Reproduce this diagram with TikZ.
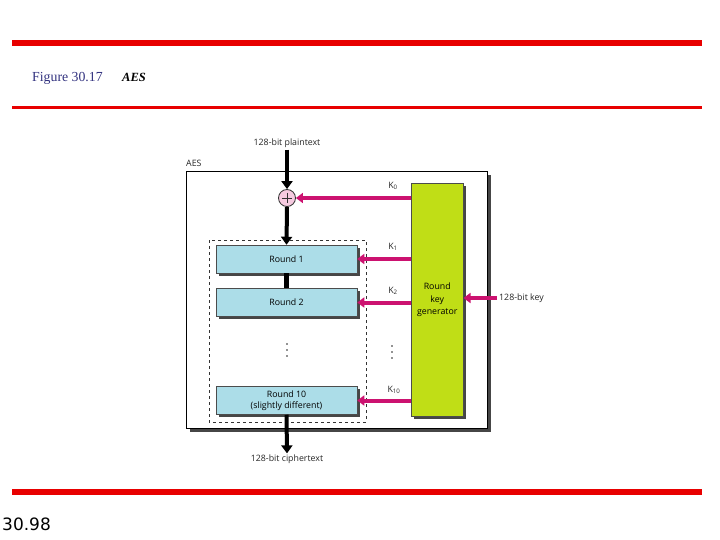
\documentclass[tikz,border=0pt]{standalone}
\usepackage{fontspec}
\setmainfont{Liberation Serif}
\newfontfamily\diagfont{Open Sans}
\newfontfamily\numfont{DejaVu Sans}
\usetikzlibrary{arrows.meta,shadows,calc}
\definecolor{redline}{RGB}{232,0,0}
\definecolor{capblue}{RGB}{51,51,128}
\definecolor{roundblue}{RGB}{172,221,232}
\definecolor{keygreen}{RGB}{192,222,22}
\definecolor{keymag}{RGB}{204,18,112}
\definecolor{xorpink}{RGB}{246,202,224}
\definecolor{shadowgray}{RGB}{70,70,70}
\tikzset{
  lbl/.style={font=\diagfont\fontsize{8.8}{10}\selectfont, text=black!85, inner sep=2pt},
  shad/.style={drop shadow={shadow xshift=2.5pt, shadow yshift=-2.5pt, fill=shadowgray, opacity=1}},
  roundbox/.style={shad, draw=black!70, line width=0.5pt, fill=roundblue, minimum width=141, minimum height=28, inner sep=0, align=center, font=\diagfont\fontsize{8.8}{11}\selectfont},
  genbox/.style={shad, draw=black!70, line width=0.5pt, fill=keygreen, minimum width=52, minimum height=233, inner sep=0, align=center, font=\diagfont\fontsize{8.8}{12.5}\selectfont, anchor=north west},
  aesbox/.style={drop shadow={shadow xshift=3pt, shadow yshift=-3pt, fill=shadowgray, opacity=1}, draw=black, line width=1.2pt, fill=white, minimum width=301, minimum height=257, inner sep=0, anchor=north west},
  blackarrow/.style={line width=4pt, -{Triangle[width=11pt,length=8pt]}},
  blackline/.style={line width=5pt},
  magarrow/.style={keymag, line width=4pt, -{Triangle[width=10pt,length=7pt]}},
  dotmark/.style={fill=black!85},
}
\begin{document}
\begin{tikzpicture}[x=1pt,y=-1pt]
\useasboundingbox[fill=white] (0,0) rectangle (720,540);
% rules
\fill[redline] (12,40) rectangle (702,46);
\fill[redline] (12,106.5) rectangle (702,109.5);
\fill[redline] (12,489) rectangle (702,495);
% caption
\node[anchor=base west, inner sep=0, text=capblue, font=\fontsize{13.8}{15}\selectfont] (cap) at (32,82) {Figure 30.17};
\node[anchor=base west, inner sep=0, font=\bfseries\itshape\fontsize{12.5}{14}\selectfont] (capt) at (122,82) {AES};
\node[anchor=west, inner sep=0, font=\numfont\fontsize{17}{20}\selectfont] (pg) at (2,524) {30.98};
% diagram
\node[aesbox] (aes) at (186,171) {};
\node[lbl, anchor=west] (aeslbl) at (184,163) {AES};
\draw[dashed, line width=0.6pt, black!80] (209,240) rectangle (366,422);
\node[genbox] (gen) at (411,183) {Round\\key\\generator};
\node[circle, draw=black!80, line width=0.8pt, fill=xorpink, minimum size=17, inner sep=0] (xor) at (287,198) {};
\draw[black!80, line width=0.9pt] ($(xor.center)+(-5,0)$) -- ($(xor.center)+(5,0)$);
\draw[black!80, line width=0.9pt] ($(xor.center)+(0,-5)$) -- ($(xor.center)+(0,5)$);
\node[roundbox] (r1) at (286.5,259) {Round 1};
\node[roundbox] (r2) at (286.5,302.5) {Round 2};
\node[roundbox] (r10) at (286.5,400.5) {Round 10\\(slightly different)};
\node[lbl] (pt) at (287,143) {128-bit plaintext};
\node[lbl] (ct) at (287,459) {128-bit ciphertext};
\node[lbl, anchor=west] (key) at (497,298) {128-bit key};
\node[lbl] (k0) at (393,186) {K\textsubscript{0}};
\node[lbl] (k1) at (393,247) {K\textsubscript{1}};
\node[lbl] (k2) at (393,291) {K\textsubscript{2}};
\node[lbl] (k10) at (394,390) {K\textsubscript{10}};
% vertical ellipses
\foreach \yy in {344,350,356} \fill[dotmark] (287,\yy) circle (0.9);
\foreach \yy in {346,352,358} \fill[dotmark] (392,\yy) circle (0.9);
% connectors
\draw[blackarrow] (pt.south) -- (xor.north);
\draw[blackarrow] (xor.south) -- (r1.north);
\draw[blackline] (r1.south) -- (r2.north);
\draw[blackarrow] (r10.south) -- ($(ct.north)+(0,1)$);
\draw[magarrow] (gen.west |- xor) -- (xor.east);
\draw[magarrow] (gen.west |- r1) -- (r1.east);
\draw[magarrow] (gen.west |- r2) -- (r2.east);
\draw[magarrow] (gen.west |- r10) -- (r10.east);
\draw[magarrow] (key.west) -- (key.west -| gen.east);
\end{tikzpicture}
\end{document}
